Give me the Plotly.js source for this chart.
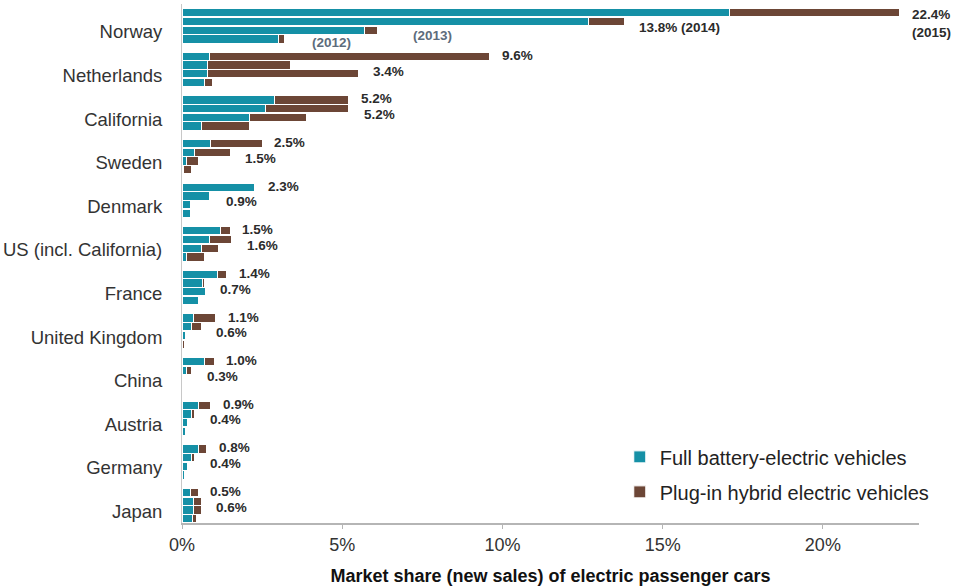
<!DOCTYPE html>
<html>
<head>
<meta charset="utf-8">
<script src="https://cdn.plot.ly/plotly-3.0.1.min.js"></script>
<style>html,body{margin:0;padding:0;background:#fff;}#chart{width:954px;height:586px;}</style>
</head>
<body>
<div id="chart"></div>
<script>
// ---- data (market share %) ----
var countries = ["Norway", "Netherlands", "California", "Sweden", "Denmark", "US (incl. California)",
                 "France", "United Kingdom", "China", "Austria", "Germany", "Japan"];
var years = ["2015", "2014", "2013", "2012"];

var bev2015  = [17.1, 0.85, 2.9, 0.9, 2.25, 1.2, 1.1, 0.35, 0.7, 0.5, 0.5, 0.25];
var phev2015 = [5.3, 8.75, 2.3, 1.6, 0.05, 0.3, 0.3, 0.7, 0.3, 0.4, 0.28, 0.25];
var bev2014  = [12.7, 0.8, 2.6, 0.4, 0.85, 0.85, 0.65, 0.3, 0.15, 0.3, 0.3, 0.35];
var phev2014 = [1.1, 2.6, 2.6, 1.1, 0.05, 0.7, 0.05, 0.3, 0.15, 0.1, 0.1, 0.25];
var bev2013  = [5.7, 0.8, 2.1, 0.15, 0.25, 0.6, 0.72, 0.1, 0.05, 0.17, 0.17, 0.35];
var phev2013 = [0.4, 4.7, 1.8, 0.35, 0.0, 0.55, 0.0, 0.05, 0.03, 0.03, 0.03, 0.25];
var bev2012  = [3.0, 0.7, 0.6, 0.05, 0.25, 0.15, 0.5, 0.03, 0.03, 0.1, 0.08, 0.32];
var phev2012 = [0.2, 0.25, 1.5, 0.25, 0.0, 0.55, 0.0, 0.05, 0.02, 0.02, 0.02, 0.13];

var labels2015 = ["22.4%<br>(2015)", "9.6%", "5.2%", "2.5%", "2.3%", "1.5%", "1.4%", "1.1%", "1.0%", "0.9%", "0.8%", "0.5%"];
var labels2014 = ["13.8% (2014)", "3.4%", "5.2%", "1.5%", "0.9%", "1.6%", "0.7%", "0.6%", "0.3%", "0.4%", "0.4%", "0.6%"];
var yearNotes = ["(2013)", "(2012)"];

var seriesNames = ["Full battery-electric vehicles", "Plug-in hybrid electric vehicles"];
var tickVals = [0, 5, 10, 15, 20];
var tickText = ["0%", "5%", "10%", "15%", "20%"];

// ---- styling ----
var TEAL = "#1590a6", BROWN = "#6c4636";
var FONT = "Liberation Sans, Arial, Helvetica, sans-serif";
var yearOffset = [-0.3, -0.1, 0.1, 0.3];
var bevByYear = [bev2015, bev2014, bev2013, bev2012];
var phevByYear = [phev2015, phev2014, phev2013, phev2012];

function pos(k) { return countries.map(function (c, i) { return i + yearOffset[k]; }); }

var traces = [];
for (var k = 0; k < 4; k++) {
  traces.push({
    type: "bar", orientation: "h", x: bevByYear[k], y: pos(k), width: 0.19,
    name: seriesNames[0], legendgroup: "bev", showlegend: k === 0,
    marker: {color: TEAL, line: {color: "#ffffff", width: 1}}, hoverinfo: "x"
  });
}
for (var k2 = 0; k2 < 4; k2++) {
  traces.push({
    type: "bar", orientation: "h", x: phevByYear[k2], y: pos(k2), width: 0.19,
    name: seriesNames[1], legendgroup: "phev", showlegend: k2 === 0,
    marker: {color: BROWN, line: {color: "#ffffff", width: 1}}, hoverinfo: "x"
  });
}

function total(k, i) { return bevByYear[k][i] + phevByYear[k][i]; }

var LBL = {family: FONT, size: 13.5, color: "#2b2b2b", weight: "bold"};
var annotations = [];
countries.forEach(function (c, i) {
  var multi = labels2015[i].indexOf("<br>") >= 0;
  annotations.push({
    x: total(0, i), y: i + yearOffset[0], xref: "x", yref: "y",
    text: labels2015[i], showarrow: false, xanchor: "left", align: "left",
    yanchor: multi ? "top" : "middle", xshift: 11, yshift: multi ? 7 : 1,
    borderpad: 0, font: LBL
  });
  annotations.push({
    x: Math.max(total(1, i), total(2, i)), y: i + yearOffset[1], xref: "x", yref: "y",
    text: labels2014[i], showarrow: false, xanchor: "left", yanchor: "middle",
    xshift: 14, yshift: -6, borderpad: 0, font: LBL
  });
});
// year notes for Norway's 2013 and 2012 bars
var NOTE = {family: FONT, size: 13.5, color: "#5d6c7c", weight: "bold"};
annotations.push({
  x: total(2, 0), y: 0 + yearOffset[2], xref: "x", yref: "y", text: yearNotes[0],
  showarrow: false, xanchor: "left", yanchor: "middle", xshift: 35, yshift: -5,
  borderpad: 0, font: NOTE
});
annotations.push({
  x: total(3, 0), y: 0 + yearOffset[3], xref: "x", yref: "y", text: yearNotes[1],
  showarrow: false, xanchor: "left", yanchor: "middle", xshift: 26, yshift: -4,
  borderpad: 0, font: NOTE
});

var layout = {
  width: 954, height: 586,
  margin: {l: 182, r: 35, t: 4, b: 63},
  paper_bgcolor: "#ffffff", plot_bgcolor: "#ffffff",
  barmode: "stack", bargap: 0,
  font: {family: FONT, color: "#333333"},
  xaxis: {
    range: [0, 23], tickvals: tickVals, ticktext: tickText,
    showgrid: false, zeroline: false,
    showline: true, linecolor: "#b5b5b5", linewidth: 2,
    ticks: "outside", ticklen: 4, tickwidth: 1, tickcolor: "#b5b5b5",
    tickfont: {family: FONT, size: 18, color: "#333333"},
    title: {text: "Market share (new sales) of electric passenger cars",
            font: {family: FONT, size: 18, color: "#111111", weight: "bold"}, standoff: 17},
    fixedrange: true
  },
  yaxis: {
    range: [11.4, -0.5], tickvals: countries.map(function (c, i) { return i; }), ticktext: countries,
    showgrid: false, zeroline: false, showline: true, linecolor: "#c8c8c8", linewidth: 1,
    ticks: "", ticklabelstandoff: 15, ticklabelshift: -6,
    tickfont: {family: FONT, size: 18.5, color: "#333333"},
    fixedrange: true
  },
  legend: {
    x: 0.594, y: 0.165, xanchor: "left", yanchor: "top",
    traceorder: "grouped", tracegroupgap: 6,
    font: {family: FONT, size: 20, color: "#222222"},
    bgcolor: "rgba(0,0,0,0)"
  },
  annotations: annotations,
  showlegend: true
};

Plotly.newPlot("chart", traces, layout, {displayModeBar: false, staticPlot: true});
</script>
</body>
</html>
